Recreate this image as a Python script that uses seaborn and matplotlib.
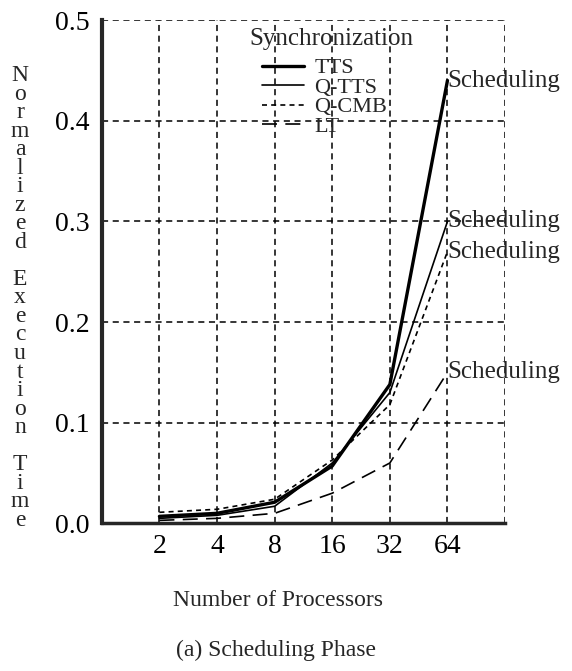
import numpy as np
import pandas as pd
import matplotlib
matplotlib.use("Agg")
import matplotlib.pyplot as plt
import seaborn as sns
from matplotlib.lines import Line2D

sns.set_style("white")
plt.rcParams['font.family'] = ['Liberation Serif', 'DejaVu Serif']

processors = ["2", "4", "8", "16", "32", "64"]
tts = [0.007, 0.010, 0.021, 0.057, 0.138, 0.440]
q_tts = [0.005, 0.008, 0.017, 0.060, 0.130, 0.300]
q_cmb = [0.011, 0.014, 0.024, 0.063, 0.118, 0.270]
lt = [0.003, 0.005, 0.010, 0.030, 0.060, 0.150]
y_ticks = [0.0, 0.1, 0.2, 0.3, 0.4, 0.5]

names = ["TTS", "Q-TTS", "Q-CMB", "LT"]
series = [tts, q_tts, q_cmb, lt]
widths = [2.4, 1.2, 1.2, 1.2]
dashes = [None, None, (3, 2.5), (9, 5)]

pos = np.arange(1, len(processors) + 1)
df = pd.DataFrame({"pos": np.tile(pos, len(names)),
                   "value": np.concatenate(series),
                   "sync": np.repeat(names, len(pos))})

fig = plt.figure(figsize=(5.72, 6.71), dpi=100)
ax = fig.add_axes([0.178, 0.22, 0.705, 0.75])

handles = []
for name, lw, dsh in zip(names, widths, dashes):
    sub = df[df["sync"] == name]
    sns.lineplot(data=sub, x="pos", y="value", ax=ax, color="black",
                 linewidth=lw, legend=False)
    line = ax.lines[-1]
    if dsh:
        line.set_dashes(dsh)
    h = Line2D([], [], color="black", linewidth=lw)
    if dsh:
        h.set_dashes(dsh)
    handles.append(h)
    ax.annotate("Scheduling", (pos[-1], sub["value"].iloc[-1]),
                xytext=(0, 0), textcoords="offset points",
                ha="left", va="center", fontsize=18)

ax.set_xlim(0, len(processors) + 1)
ax.set_ylim(0, 0.5)
ax.set_xticks(list(pos) + [len(processors) + 1])
ax.set_xticklabels(processors + [""], fontsize=20)
ax.set_yticks(y_ticks)
ax.set_yticklabels([f"{v:.1f}" for v in y_ticks], fontsize=20)
ax.tick_params(axis="both", direction="inout", length=7, width=1.5,
               colors="black", pad=4)
ax.tick_params(axis="y", direction="out", length=5)

ax.grid(True, color="black", linestyle=(0, (4, 3)), linewidth=1.1)
ax.spines["left"].set_linewidth(3)
ax.spines["bottom"].set_linewidth(2.5)
for s in ["top", "right"]:
    ax.spines[s].set_visible(False)
ax.set_xlabel("")
ax.set_ylabel("")

ax.text(0.367, 0.985, "Synchronization", transform=ax.transAxes,
        ha="left", va="top", fontsize=18)
leg = ax.legend(handles, names, loc="upper left",
                bbox_to_anchor=(0.37, 0.947), frameon=False, fontsize=16,
                borderpad=0, labelspacing=-0.05, handlelength=1.9,
                handletextpad=0.45)

label = "Normalized Execution Time"
fig.text(0.035, 0.556, "\n".join(label), ha="center", va="center",
         fontsize=17, linespacing=0.845)
fig.text(0.486, 0.105, "Number of Processors", ha="center", va="center",
         fontsize=17)
fig.text(0.483, 0.03, "(a) Scheduling Phase", ha="center", va="center",
         fontsize=17)

fig.savefig("out.png", dpi=100)
